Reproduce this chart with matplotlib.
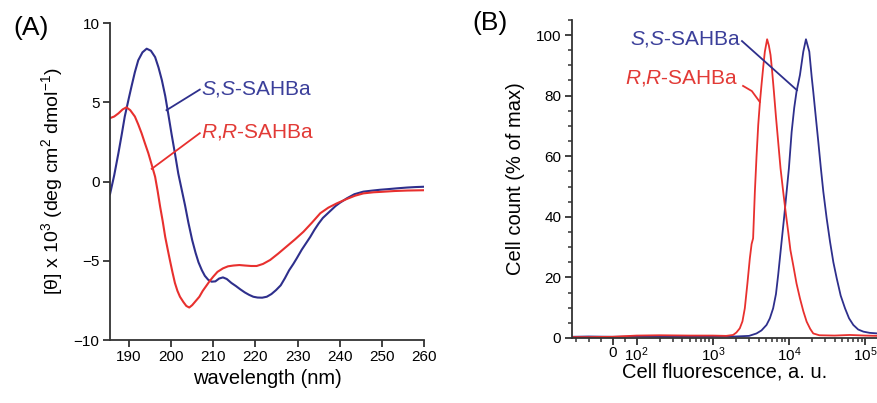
import numpy as np
import matplotlib
matplotlib.use("Agg")
import matplotlib.pyplot as plt
from matplotlib.ticker import FixedLocator, NullFormatter

plt.rcParams['font.family'] = ['Liberation Sans', 'DejaVu Sans']
plt.rcParams['mathtext.fontset'] = 'custom'
plt.rcParams['mathtext.rm'] = 'Liberation Sans'
plt.rcParams['mathtext.it'] = 'Liberation Sans:italic'
plt.rcParams['mathtext.default'] = 'regular'

# ---------------- Panel A data (CD spectra) ----------------
wl_ss = [185.5, 186.5, 187.5, 188.3, 189, 190, 190.6, 191.4, 192.2, 193.2, 194.2, 195.2, 196.2, 197,
         197.8, 198.6, 199.3, 200.1, 200.9, 201.7, 202.5, 203.3, 204.1, 205, 205.8, 206.5, 207.3, 208,
         208.8, 209.6, 210.5, 211.4, 212.3, 213.2, 214.3, 215.4, 216.4, 217.5, 218.5, 219.5, 220.5,
         221.6, 222.7, 223.8, 224.9, 226, 227, 228, 229, 229.8, 231, 232, 233, 234, 235, 236, 237,
         238, 239, 240, 241.7, 243.5, 245.6, 247.5, 249.6, 251.5, 253.6, 256, 258, 260]
cd_ss = [-0.8, 0.4, 1.8, 3.0, 4.1, 5.3, 6.0, 6.9, 7.65, 8.15, 8.38, 8.25, 7.85, 7.2,
         6.4, 5.4, 4.3, 3.0, 1.78, 0.5, -0.5, -1.5, -2.6, -3.7, -4.5, -5.1, -5.6, -5.95,
         -6.2, -6.32, -6.3, -6.12, -6.05, -6.15, -6.4, -6.6, -6.8, -7.0, -7.15, -7.27, -7.32,
         -7.33, -7.27, -7.1, -6.85, -6.55, -6.1, -5.6, -5.2, -4.85, -4.3, -3.9, -3.5, -3.05, -2.65, -2.3, -2.05,
         -1.8, -1.55, -1.35, -1.06, -0.8, -0.64, -0.58, -0.52, -0.48, -0.43, -0.38, -0.35, -0.33]

wl_rr = [185.5, 186.5, 187.5, 188.5, 189.4, 190.3, 191.4, 192.2, 193, 193.8, 194.6, 195.4, 196.2,
         196.8, 197.4, 198, 198.6, 199.2, 199.7, 200.3, 200.9, 201.5, 202.1, 202.9, 203.6, 204.3,
         205, 205.8, 206.7, 207.5, 208.3, 209.1, 210, 211, 212.3, 213.5, 214.8, 216.2, 217.5, 219,
         220.3, 221.8, 223.5, 225.4, 227.4, 229.4, 231.4, 233.4, 235.4, 237.3, 239.3, 241.7, 243.6,
         245.6, 248, 250, 253, 256, 260]
cd_rr = [4.0, 4.1, 4.3, 4.55, 4.68, 4.5, 4.1, 3.6, 3.04, 2.4, 1.78, 1.05, 0.3,
         -0.6, -1.6, -2.5, -3.5, -4.3, -4.95, -5.7, -6.4, -6.9, -7.27, -7.6, -7.85, -7.95,
         -7.8, -7.55, -7.27, -6.9, -6.6, -6.3, -6.0, -5.7, -5.48, -5.35, -5.3, -5.27, -5.3, -5.33,
         -5.33, -5.2, -4.95, -4.55, -4.1, -3.65, -3.17, -2.6, -2.0, -1.65, -1.38, -1.1, -0.9,
         -0.75, -0.68, -0.65, -0.6, -0.57, -0.55]

a_xticks = [190, 200, 210, 220, 230, 240, 250, 260]
a_yticks = [-10, -5, 0, 5, 10]

# ---------------- Panel B data (flow cytometry histograms) ----------------
fl_ss = [-170, -100, 0, 100, 300, 1000, 2000, 3000, 3758, 4365, 5082, 5623, 6209, 6761, 7228, 8017,
         8710, 9333, 10000, 10864, 11749, 12589, 13964, 15453, 16749, 18535, 19953, 20893, 22542,
         24322, 26303, 28314, 31333, 34674, 38371, 42462, 47863, 54576, 61660, 70146, 81283, 95060,
         114815, 147911]
cnt_ss = [0.4, 0.5, 0.4, 0.5, 0.4, 0.5, 0.5, 0.7, 1.5, 2.5, 4.3, 6.5, 9.8, 14.5, 20.8, 31.8,
          40.5, 48.3, 56, 68, 76, 81.3, 86.8, 94.5, 98.6, 94.5, 86, 81.3, 73,
          64.8, 56, 48.3, 39.5, 31.8, 25, 19.7, 14, 9.8, 6.5, 4.3, 2.8, 2.1,
          1.7, 1.5]

fl_rr = [-170, -100, 0, 100, 200, 500, 1000, 1500, 1849, 2042, 2265, 2455, 2636, 2851, 3069, 3236,
         3388, 3573, 3758, 3954, 4169, 4365, 4624, 4831, 5176, 5458, 5741, 6026, 6353, 6761, 7228,
         7762, 8414, 9120, 9795, 10471, 11402, 12589, 13964, 15488, 17100, 19055, 20893, 25119,
         39811, 63096, 100000, 147911]
cnt_rr = [0.3, 0.3, 0.4, 0.8, 0.9, 0.8, 0.8, 0.7, 1.0, 1.8, 3.2, 5.5, 9.8, 18, 26.3, 31,
          32.9, 48.3, 60, 70.3, 78, 83.5, 90, 94.5, 98.6, 96.5, 93.4, 88, 81.3, 73, 64.8,
          56, 48.3, 41, 35, 29, 24, 18, 13.1, 8.8, 5.4, 3, 1.5, 0.9,
          0.8, 1.0, 0.8, 0.7]

b_xticks = [0, 100, 1000, 10000, 100000]
b_xticklabels = ['0', '10$^2$', '10$^3$', '10$^4$', '10$^5$']
b_yticks = [0, 20, 40, 60, 80, 100]

ss_label = r'$\it{S}$,$\it{S}$-SAHBa'
rr_label = r'$\it{R}$,$\it{R}$-SAHBa'

BLUE = '#2E2F8C'
RED = '#E8302E'
BLUE_TXT = '#3B3F9A'
RED_TXT = '#E23A36'

fig = plt.figure(figsize=(8.78, 4.03), dpi=100)

# ---------------- Panel A ----------------
axA = fig.add_axes([0.1253, 0.1563, 0.3576, 0.7866])
axA.plot(wl_ss, cd_ss, color=BLUE, lw=1.5)
axA.plot(wl_rr, cd_rr, color=RED, lw=1.5)
axA.set_xlim(185.5, 260)
axA.set_ylim(-10, 10)
axA.set_xticks(a_xticks)
axA.set_yticks(a_yticks)
for s in ['top', 'right']:
    axA.spines[s].set_visible(False)
for s in ['left', 'bottom']:
    axA.spines[s].set_linewidth(1.3)
    axA.spines[s].set_color('#333333')
axA.tick_params(direction='out', length=5, width=1.3, labelsize=11, pad=2.5, color='#333333')
axA.set_xlabel('wavelength (nm)', fontsize=14.5, labelpad=3)
axA.set_ylabel(r'[θ] x 10$^3$ (deg cm$^2$ dmol$^{-1}$)', fontsize=14, labelpad=6)

axA.plot([198.9, 206.8], [4.5, 5.8], color=BLUE, lw=1.3)
axA.plot([195.4, 206.8], [0.8, 3.05], color=RED, lw=1.3)
axA.text(207.0, 5.85, ss_label, color=BLUE_TXT, fontsize=15, va='center', ha='left')
axA.text(207.0, 3.1, rr_label, color=RED_TXT, fontsize=15, va='center', ha='left')

fig.text(13 / 878, 1 - 28 / 403, '(A)', fontsize=19, va='center', ha='left')

# ---------------- Panel B ----------------
def fwd(x):
    x = np.asarray(x, dtype=float)
    return np.where(x >= 100, np.log10(np.maximum(x, 100)), 1.684 + 0.316 * x / 100.0)

def inv(u):
    u = np.asarray(u, dtype=float)
    return np.where(u >= 2, 10 ** np.minimum(u, 20), (u - 1.684) / 0.316 * 100.0)

axB = fig.add_axes([0.6511, 0.1613, 0.3489, 0.7894])
axB.set_xscale('function', functions=(fwd, inv))
axB.plot(fl_ss, cnt_ss, color=BLUE, lw=1.3)
axB.plot(fl_rr, cnt_rr, color=RED, lw=1.3)
axB.set_xlim(-170, 148000)
axB.set_ylim(0, 105)
axB.xaxis.set_major_locator(FixedLocator(b_xticks))
axB.set_xticklabels(b_xticklabels)
minors = [-150, -100, -50, 50]
for d in [100, 1000, 10000]:
    minors += [d * k for k in range(2, 10)]
minors += [200000]
axB.xaxis.set_minor_locator(FixedLocator(minors))
axB.xaxis.set_minor_formatter(NullFormatter())
axB.set_yticks(b_yticks)
axB.yaxis.set_minor_locator(FixedLocator([v for v in range(0, 106, 5) if v % 20 != 0]))
for s in ['top', 'right']:
    axB.spines[s].set_visible(False)
for s in ['left', 'bottom']:
    axB.spines[s].set_linewidth(1.3)
    axB.spines[s].set_color('#333333')
axB.tick_params(which='major', direction='out', length=5, width=1.3, labelsize=11, pad=2.5, color='#333333')
axB.tick_params(axis='x', which='major', pad=0.5)
axB.tick_params(which='minor', direction='out', length=3, width=1.1, color='#333333')
axB.set_xlabel('Cell fluorescence, a. u.', fontsize=14.5, labelpad=-1)
axB.set_ylabel('Cell count (% of max)', fontsize=14.5, labelpad=8)

axB.plot([2420, 12750], [98.0, 81.8], color=BLUE, lw=1.3)
axB.plot([2500, 3260, 4150], [83.2, 81.5, 77.9], color=RED, lw=1.3)
axB.text(2330, 98.6, ss_label, color=BLUE_TXT, fontsize=15, va='center', ha='right')
axB.text(2180, 85.7, rr_label, color=RED_TXT, fontsize=15, va='center', ha='right')

fig.text(472 / 878, 1 - 23 / 403, '(B)', fontsize=19, va='center', ha='left')

fig.savefig('out.png', dpi=100)
